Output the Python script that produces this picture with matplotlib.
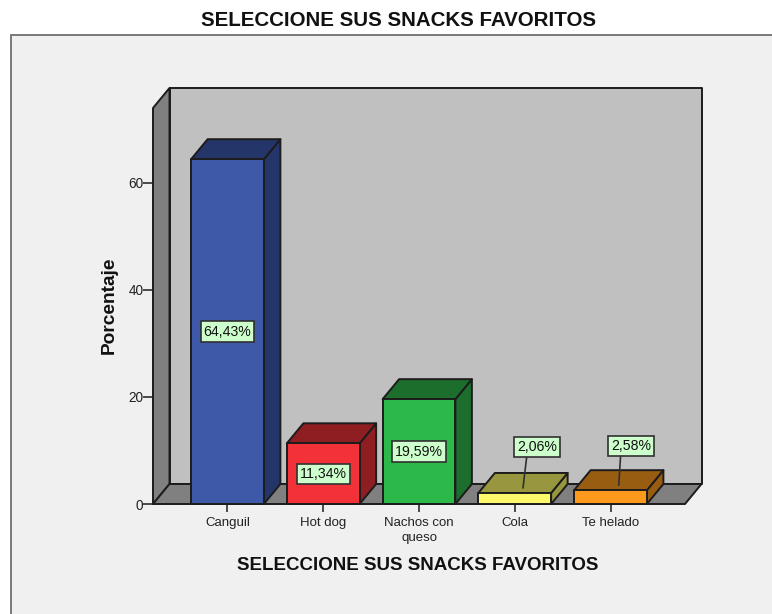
import matplotlib
matplotlib.use("Agg")
import matplotlib.pyplot as plt
from matplotlib.patches import Polygon, Rectangle

plt.rcParams['font.family'] = ['Liberation Sans', 'DejaVu Sans']

# Chart data
categories = ["Canguil", "Hot dog", "Nachos con\nqueso", "Cola", "Te helado"]
percentages = [64.43, 11.34, 19.59, 2.06, 2.58]
value_labels = ["64,43%", "11,34%", "19,59%", "2,06%", "2,58%"]
y_ticks = [0, 20, 40, 60]
chart_title = "SELECCIONE SUS SNACKS FAVORITOS"
y_title = "Porcentaje"

front_colors = ["#3e59a8", "#f23238", "#2db84a", "#fdf96b", "#fd9a1e"]
shade_colors = ["#24356a", "#8f1e22", "#1c6e2c", "#98973f", "#995d12"]

W, H = 772, 614
EDGE = "#1c1c1c"

fig = plt.figure(figsize=(W / 100, H / 100), dpi=100, facecolor="white")

# Grey panel behind the chart, cut by the right and bottom edges
fig.add_artist(Rectangle((11 / W, -0.01), 1.0, 1 - 35 / H + 0.01, transform=fig.transFigure,
                         facecolor="#f0f0f0", edgecolor="#707070", linewidth=1.3, zorder=-1))

# Front plane of the 3D box in pixels: x 153-685, y 108-504
ax = fig.add_axes([153 / W, 1 - 504 / H, (685 - 153) / W, (504 - 108) / H])
ax.set_xlim(-0.778, 4.778)
ax.set_ylim(0, 74)
ax.patch.set_visible(False)

# Depth of the 3D effect, in data units
dx = 16.5 / 95.75
dy = 20 / 5.35
bar_w = 0.38
xmin, xmax = ax.get_xlim()
ymin, ymax = ax.get_ylim()


def poly(points, color, z, lw=1.4):
    ax.add_patch(Polygon(points, closed=True, facecolor=color, edgecolor=EDGE,
                         linewidth=lw, joinstyle="round", clip_on=False, zorder=z))


# Back wall, side wall and floor
poly([(xmin + dx, ymin + dy), (xmax + dx, ymin + dy), (xmax + dx, ymax + dy), (xmin + dx, ymax + dy)], "#c0c0c0", 1)
poly([(xmin, ymin), (xmin + dx, ymin + dy), (xmin + dx, ymax + dy), (xmin, ymax)], "#808080", 1.1)
poly([(xmin, ymin), (xmax, ymin), (xmax + dx, ymin + dy), (xmin + dx, ymin + dy)], "#808080", 1.2)

# Bars: side and top faces first, then the front
for i, v in enumerate(percentages):
    l, r = i - bar_w, i + bar_w
    poly([(r, 0), (r + dx, dy), (r + dx, v + dy), (r, v)], shade_colors[i], 2)
    poly([(l, v), (r, v), (r + dx, v + dy), (l + dx, v + dy)], shade_colors[i], 2)
    poly([(l, 0), (r, 0), (r, v), (l, v)], front_colors[i], 2.1)

# Value labels; the two small bars get theirs lifted on a leader line
box = dict(boxstyle="square,pad=0.22", facecolor="#ccffcc", edgecolor="#303030", linewidth=1.2)
leader_offsets = {3: (14, 41), 4: (12, 39)}
for i, v in enumerate(percentages):
    if v > 5:
        ax.text(i, v / 2, value_labels[i], ha="center", va="center", fontsize=10.2,
                color="#111111", bbox=box, zorder=5)
    else:
        ax.annotate(value_labels[i], xy=(i + dx / 2, v + dy / 4), xycoords="data",
                    xytext=leader_offsets[i], textcoords="offset pixels",
                    ha="center", va="center", fontsize=10.2, color="#111111", bbox=box,
                    arrowprops=dict(arrowstyle="-", color="#303030", linewidth=1.2,
                                    shrinkA=0, shrinkB=0, relpos=(0.25, 0)),
                    zorder=5)

# Axes
for name in ["top", "right", "bottom", "left"]:
    ax.spines[name].set_visible(False)
ax.set_xticks(range(len(categories)))
ax.set_xticklabels(categories, fontsize=9.5, color="#222222", linespacing=1.3)
ax.set_yticks(y_ticks)
ax.set_yticklabels([str(t) for t in y_ticks], fontsize=9.8, color="#222222")
ax.tick_params(axis="y", length=7, width=1.1, color=EDGE, pad=0)
ax.tick_params(axis="x", length=5.8, width=1.1, color=EDGE, pad=3.5)

fig.text(398 / W, 1 - 21 / H, chart_title, ha="center", va="center", fontsize=14.8,
         fontweight="bold", color="#111111")
fig.text(418 / W, 1 - 566 / H, chart_title, ha="center", va="center", fontsize=13.5,
         fontweight="bold", color="#111111")
fig.text(109 / W, 1 - 305 / H, y_title, ha="center", va="center", rotation=90, fontsize=13.8,
         fontweight="bold", color="#111111")

fig.savefig("out.png", dpi=100, facecolor="white")
